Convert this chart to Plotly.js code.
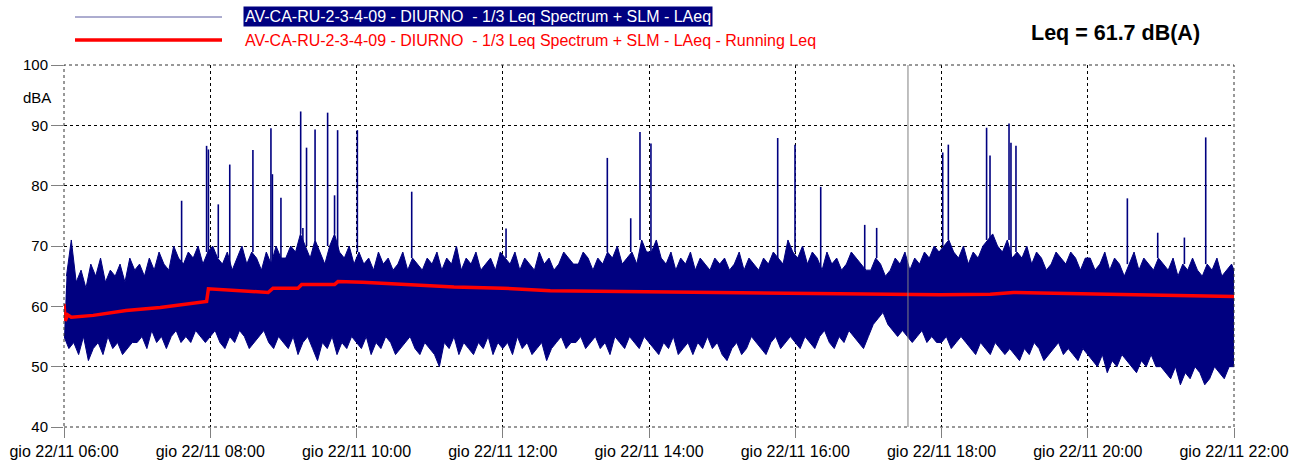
<!DOCTYPE html>
<html>
<head>
<meta charset="utf-8">
<script src="https://cdn.plot.ly/plotly-3.0.1.min.js"></script>
<style>
  html, body { margin: 0; padding: 0; background: #fff; }
  #chart { width: 1305px; height: 467px; }
</style>
</head>
<body>
<div id="chart"></div>
<script>
// ---- Data (minutes after 06:00 on gio 22/11) ----
const binStep = 4; // minutes between envelope samples
// upper envelope of LAeq trace (dBA), one value per 4-minute bin, 06:00..22:00
const laeqHigh = [
65,71,64,66,63,67,65,68,64,66,65,67,64,68,66,
67,65,68,66,69,67,66,70,68,67,69,68,70,67,69,
70,68,67,69,66,68,70,67,69,68,66,69,67,70,68,
68,70,69,72,70,68,71,69,67,70,72,69,68,70,67,
69,67,68,66,69,67,68,66,67,69,66,68,67,66,68,
67,69,66,68,67,70,66,68,67,69,66,67,68,66,69,
68,67,69,66,68,67,66,69,67,68,66,67,69,68,67,
67,69,68,66,68,67,69,68,70,67,68,69,67,71,69,
69,71,68,67,69,66,68,67,69,66,68,67,66,68,67,
68,66,67,69,66,68,67,66,68,67,69,68,67,71,69,
68,70,67,69,68,66,69,67,68,66,67,69,68,67,66,
66,68,67,65,66,68,67,69,66,68,67,69,68,70,69,
70,71,69,68,70,67,69,68,70,71,72,70,69,71,68,
69,68,70,67,69,68,66,67,69,68,67,69,68,66,68,
68,66,67,69,66,68,67,65,67,69,66,68,67,66,68,
67,66,68,65,67,66,68,66,65,67,66,68,65,66,67,
66];
// lower envelope of LAeq trace (dBA)
const laeqLow = [
55,53,54,52,55,51,53,54,52,55,53,54,52,53,54,
54,55,53,56,54,55,53,55,56,54,55,54,56,55,54,
55,56,54,53,55,54,56,55,53,54,55,56,54,53,55,
54,53,55,52,54,55,53,51,54,53,55,52,54,53,55,
54,53,55,52,54,53,55,54,52,53,54,55,53,52,54,
53,52,50,54,53,55,52,54,53,52,54,53,55,52,54,
53,54,52,55,53,54,52,53,54,51,53,54,55,53,54,
54,55,53,54,55,53,54,52,55,54,53,55,54,53,55,
54,53,52,54,53,55,52,53,54,52,54,53,55,53,54,
52,51,53,54,52,53,55,54,53,52,54,55,53,54,55,
54,53,55,54,53,55,56,54,53,55,54,56,55,54,53,
55,57,58,59,57,56,55,56,55,54,55,56,54,55,54,
54,55,53,54,55,54,53,52,54,53,52,54,53,52,53,
52,51,53,52,54,53,51,52,53,54,52,53,52,51,53,
52,51,50,52,49,51,50,52,51,50,49,51,50,52,50,
50,49,48,50,47,49,48,50,49,47,48,50,49,48,50,
50];
// isolated peaks of the LAeq trace
const spikeMin = [96.5,117,118.5,126.6,136,155,169.8,171,178,194.2,196,199,206,216.3,222,224.5,240.7,285.3,362.7,445.8,465,472.6,481.6,585.6,599.8,620.9,657,666.8,721,725.6,757,759.8,775.4,777,781.1,872.5,897.4,919.3,936.8];
const spikeDb  = [77.5,86.6,86,76.9,83.5,85.9,89.5,81.9,78,92.3,73,86.3,89.3,92.1,78.4,89.2,89.2,79,72.9,84.6,74.6,88.9,87,87.9,86.8,79.8,73.5,73,85.5,86.8,89.6,85,90.3,87.1,86.6,77.9,72.2,71.4,88];
// running Leq
const runMin = [0,1,3,6,24,51,79,117,118.5,161,167.5,171.5,192,195,222,224.8,245,320,360,399,440,481,559,641,691,719,760,779,801,840,879,960];
const runDb  = [60.4,57.6,58.6,58.2,58.5,59.3,59.8,60.8,62.9,62.5,62.3,63.0,63.0,63.6,63.6,64.1,64.0,63.2,63.0,62.6,62.5,62.4,62.15,62.0,61.95,61.9,62.0,62.3,62.2,62.0,61.9,61.65];
// axis ticks
const tickMin = [0,120,240,360,480,600,720,840,960];
const tickText = ["gio 22/11 06:00","gio 22/11 08:00","gio 22/11 10:00","gio 22/11 12:00","gio 22/11 14:00","gio 22/11 16:00","gio 22/11 18:00","gio 22/11 20:00","gio 22/11 22:00"];
const yTicks = [40,50,60,70,80,90,100];
const cursorMin = 692.5;
const seriesName = "AV-CA-RU-2-3-4-09 - DIURNO  - 1/3 Leq Spectrum + SLM - LAeq";
const runName = "AV-CA-RU-2-3-4-09 - DIURNO  - 1/3 Leq Spectrum + SLM - LAeq - Running Leq";
const leqText = "Leq = 61.7 dB(A)";

// band: lower boundary at bin starts, upper boundary half a bin later
const loX = laeqLow.map((v, i) => i * binStep);
const hiX = laeqHigh.map((v, i) => Math.min(i * binStep + binStep / 2, 960));
// peaks drawn as thin vertical strokes rising from the band top of their bin
const spX = [], spY = [];
for (let k = 0; k < spikeMin.length; k++) {
  const bin = Math.min(Math.floor(spikeMin[k] / binStep), laeqHigh.length - 1);
  spX.push(spikeMin[k], spikeMin[k], null);
  spY.push(laeqHigh[bin], spikeDb[k], null);
}

const NAVY = '#000080';
const FONT = "Arial, 'Liberation Sans', sans-serif";
const GRID_DASH = '3px,3px';
const traces = [
  { x: loX, y: laeqLow, type: 'scatter', mode: 'lines',
    line: { color: NAVY, width: 1 }, hoverinfo: 'skip', showlegend: false },
  { x: hiX, y: laeqHigh, type: 'scatter', mode: 'lines',
    fill: 'tonexty', fillcolor: NAVY,
    line: { color: NAVY, width: 1 }, hoverinfo: 'skip', showlegend: false },
  { x: spX, y: spY, type: 'scatter', mode: 'lines', connectgaps: false,
    line: { color: NAVY, width: 1.6 }, hoverinfo: 'skip', showlegend: false },
  { x: runMin, y: runDb, type: 'scatter', mode: 'lines',
    line: { color: '#ff0000', width: 3.5 }, hoverinfo: 'skip', showlegend: false }
];

const px = v => (v - 64) / 1170;
const py = v => (427 - v) / 362;

const layout = {
  width: 1305, height: 467,
  margin: { l: 64, r: 71, t: 65, b: 40 },
  paper_bgcolor: '#fff', plot_bgcolor: '#fff',
  showlegend: false,
  xaxis: {
    range: [0, 960], tickvals: tickMin, ticktext: tickText,
    showgrid: true, gridcolor: '#000', griddash: GRID_DASH, gridwidth: 1,
    zeroline: false, showline: false,
    ticks: 'outside', ticklen: 10, tickcolor: '#808080', tickwidth: 1,
    tickfont: { family: FONT, size: 16, color: '#000' }
  },
  yaxis: {
    range: [40, 100], tickvals: yTicks,
    showgrid: true, gridcolor: '#000', griddash: GRID_DASH, gridwidth: 1,
    zeroline: false, showline: false,
    ticks: 'outside', ticklen: 12, tickcolor: '#808080', tickwidth: 1,
    tickfont: { family: FONT, size: 15, color: '#000' }
  },
  shapes: [
    { type: 'rect', xref: 'paper', yref: 'paper', x0: 0, x1: 1, y0: 0, y1: 1,
      line: { color: '#333', width: 1, dash: GRID_DASH } },
    { type: 'line', xref: 'x', yref: 'paper', x0: cursorMin, x1: cursorMin, y0: 0, y1: 1,
      line: { color: '#808080', width: 1 } },
    { type: 'line', xref: 'paper', yref: 'paper', x0: px(75), x1: px(222), y0: py(17), y1: py(17),
      line: { color: '#5a5aa0', width: 1 } },
    { type: 'line', xref: 'paper', yref: 'paper', x0: px(75), x1: px(222), y0: py(40), y1: py(40),
      line: { color: '#ff0000', width: 3.5 } }
  ],
  annotations: [
    { xref: 'paper', yref: 'paper', x: px(243), y: py(17), xanchor: 'left', yanchor: 'middle',
      text: seriesName, showarrow: false, bgcolor: NAVY, borderpad: 1,
      font: { family: FONT, size: 16, color: '#fff' } },
    { xref: 'paper', yref: 'paper', x: px(243), y: py(40), xanchor: 'left', yanchor: 'middle',
      text: runName, showarrow: false,
      font: { family: FONT, size: 16, color: '#ff0000' } },
    { xref: 'paper', yref: 'paper', x: px(1115), y: py(33), xanchor: 'center', yanchor: 'middle',
      text: '<b>' + leqText + '</b>', showarrow: false,
      font: { family: FONT, size: 21.5, color: '#000' } },
    { xref: 'paper', yref: 'paper', x: px(37), y: py(97), xanchor: 'center', yanchor: 'middle',
      text: 'dBA', showarrow: false,
      font: { family: FONT, size: 15, color: '#000' } }
  ]
};

Plotly.newPlot('chart', traces, layout, { staticPlot: true, displayModeBar: false });
</script>
</body>
</html>
